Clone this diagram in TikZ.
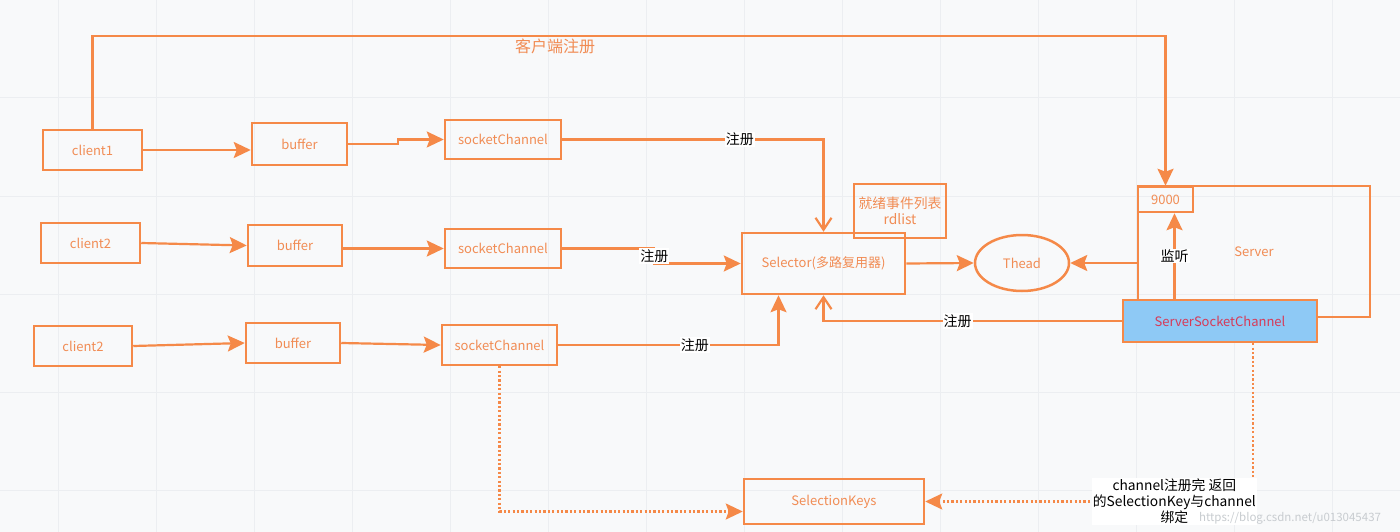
\documentclass[tikz,border=0pt]{standalone}
\usepackage{fontspec}
\setmainfont{Noto Sans CJK SC}
\usetikzlibrary{arrows.meta,shapes.geometric}
\definecolor{lineorange}{RGB}{245,137,72}
\definecolor{textorange}{RGB}{241,140,84}
\definecolor{sscblue}{RGB}{142,201,245}
\definecolor{sscred}{RGB}{214,58,88}
\definecolor{pagebg}{RGB}{248,249,250}
\definecolor{gridgray}{RGB}{236,238,241}
\definecolor{markgray}{RGB}{200,204,208}

\begin{document}
\begin{tikzpicture}[x=1pt,y=-1pt,line width=2.2pt,
  box/.style={draw=lineorange,rectangle,line width=2.5pt,text=textorange,inner sep=0pt,font=\fontsize{13}{15}\selectfont},
  lbl/.style={fill=white,text=black,inner sep=1pt,font=\fontsize{14}{16}\selectfont},
  flow/.style={draw=lineorange,-{Stealth[length=17pt,width=16pt,inset=3pt]}},
  openflow/.style={draw=lineorange,-{Straight Barb[length=12pt,width=16pt]}},
  dotflow/.style={flow,dash pattern=on 2.2pt off 2.2pt}]
\useasboundingbox (0,0) rectangle (1400,532);
\fill[pagebg] (0,0) rectangle (1400,532);
\foreach \gx in {58,156,...,1400} \draw[gridgray,line width=1pt] (\gx,0) -- (\gx,532);
\foreach \gy in {98,196,...,532} \draw[gridgray,line width=1pt] (0,\gy) -- (1400,\gy);
\coordinate (ceil) at (0,36);
\node[box,minimum width=99,minimum height=40] (client1) at (92.5,150) {client1};
\node[box,minimum width=95,minimum height=42] (buf1) at (299.5,144) {buffer};
\node[box,minimum width=116,minimum height=39] (sc1) at (503,139.5) {socketChannel};
\node[box,minimum width=99,minimum height=40] (client2a) at (90.5,243) {client2};
\node[box,minimum width=94,minimum height=41] (buf2) at (295,245.5) {buffer};
\node[box,minimum width=116,minimum height=39] (sc2) at (503,248.5) {socketChannel};
\node[box,minimum width=98,minimum height=40] (client2b) at (83,346) {client2};
\node[box,minimum width=94,minimum height=40] (buf3) at (293,343) {buffer};
\node[box,minimum width=115,minimum height=40] (sc3) at (499.5,345) {socketChannel};
\node[box,minimum width=163,minimum height=61] (sel) at (823.5,263.5) {Selector(多路复用器)};
\node[box,minimum width=92,minimum height=54,align=center,font=\fontsize{13.8}{16}\selectfont] (rdl) at (900,211) {就绪事件列表\\rdlist};
\node[box,ellipse,minimum width=94,minimum height=56] (thead) at (1022,263) {Thead};
\node[box,minimum width=232,minimum height=131] (srv) at (1254,251.5) {Server};
\node[box,minimum width=55,minimum height=25] (port) at (1165.5,199.5) {9000};
\node[box,fill=sscblue,text=sscred,minimum width=194,minimum height=42] (ssc) at (1220,321) {ServerSocketChannel};
\node[box,minimum width=180,minimum height=45] (keys) at (834,501.5) {SelectionKeys};
\node[text=textorange,font=\fontsize{16}{18}\selectfont] (reglbl) at (555,46) {客户端注册};
\draw[flow] (client1.north) -- (client1.north |- ceil) -| (port.north);
\draw[flow] (client1.east) -- (client1.east -| buf1.west);
\draw[flow] (buf1.east) -- ++(50,0) |- (sc1.west);
\draw[flow] (client2a.east) -- (buf2.west);
\draw[flow] (buf2.east |- sc2.west) -- (sc2.west);
\draw[flow] (client2b.east) -- (buf3.west);
\draw[flow] (buf3.east) -- (sc3.west);
\draw[openflow] (sc1.east) -| node[lbl,pos=0.34]{注册} (sel.north);
\draw[flow] (sc2.east) -- ++(92,0) |- node[lbl,pos=0.25]{注册} (sel.west);
\draw[flow] (sc3.east) -| node[lbl,pos=0.31]{注册} ([xshift=-45pt]sel.south);
\draw[flow] (sel.east) -- (thead.west);
\draw[flow] (srv.west |- thead.east) -- (thead.east);
\draw[flow] ([xshift=9pt]port.south |- ssc.north) -- node[lbl]{监听} ([xshift=9pt]port.south);
\draw[openflow] (ssc.west) -| node[lbl,pos=0.275]{注册} (sel.south);
\draw[dotflow] (sc3.south) |- ([yshift=-10pt]keys.west);
\draw[dotflow] ([xshift=33pt]ssc.south) |- node[lbl,pos=0.62,align=center,font=\fontsize{13.8}{16}\selectfont]{channel注册完 返回\\的SelectionKey与channel\\绑定} (keys.east);
\node[text=markgray,font=\fontsize{11.5}{13}\selectfont] (mark) at (1290,518) {https://blog.csdn.net/u013045437};
\end{tikzpicture}
\end{document}
